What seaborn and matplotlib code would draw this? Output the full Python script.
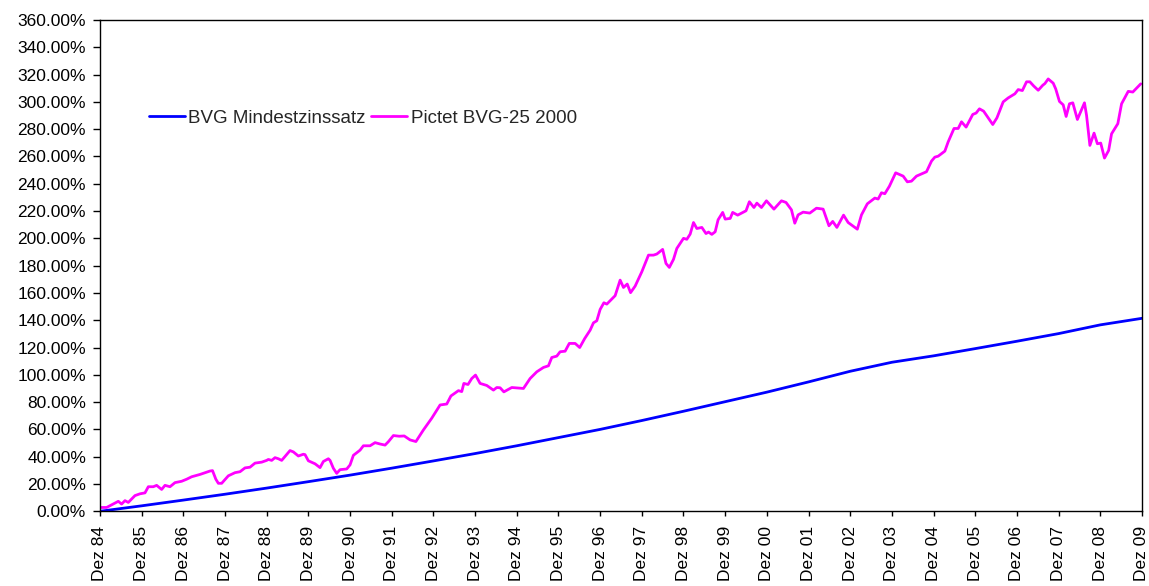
import numpy as np
import pandas as pd
import matplotlib
matplotlib.use("Agg")
import matplotlib.pyplot as plt
import seaborn as sns
from matplotlib.ticker import FuncFormatter

# Tick labels (one per year, December)
year_labels = ["Dez %02d" % (y % 100) for y in range(1984, 2010)]

# BVG minimum interest, cumulative % (yearly points, years after Dez 84)
bvg_t = list(range(0, 26))
bvg_v = [0, 4.0, 8.2, 12.5, 17.0, 21.7, 26.5, 31.6, 36.9, 42.3, 48.0, 54.0, 60.0,
         66.5, 73.3, 80.3, 87.3, 94.8, 102.6, 109.2, 113.9, 119.2, 124.6, 130.2,
         136.6, 141.4]

# Pictet BVG-25 2000, cumulative % (years after Dez 84)
pictet_t = [0.0, 0.16, 0.36, 0.44, 0.52, 0.6, 0.68, 0.84, 0.96, 1.08, 1.16, 1.28, 1.36,
            1.48, 1.56, 1.68, 1.8, 1.96, 2.08, 2.2, 2.4, 2.64, 2.7, 2.78, 2.84, 2.92,
            3.08, 3.24, 3.36, 3.48, 3.6, 3.72, 3.88, 4.0, 4.04, 4.12, 4.2, 4.28, 4.36,
            4.56, 4.64, 4.76, 4.88, 4.92, 5.0, 5.16, 5.28, 5.36, 5.48, 5.52, 5.6, 5.68,
            5.76, 5.92, 6.0, 6.08, 6.24, 6.32, 6.48, 6.6, 6.72, 6.84, 6.92, 7.04, 7.18,
            7.3, 7.44, 7.58, 7.76, 7.96, 8.16, 8.32, 8.42, 8.6, 8.68, 8.73, 8.83, 8.92,
            9.01, 9.12, 9.28, 9.44, 9.52, 9.6, 9.69, 9.88, 10.16, 10.32, 10.48, 10.64,
            10.76, 10.84, 10.96, 11.04, 11.16, 11.26, 11.4, 11.51, 11.63, 11.76, 11.84,
            11.92, 12.0, 12.09, 12.16, 12.24, 12.36, 12.48, 12.56, 12.65, 12.73, 12.84,
            13.0, 13.16, 13.28, 13.36, 13.5, 13.58, 13.66, 13.76, 13.84, 14.0, 14.08,
            14.16, 14.24, 14.32, 14.44, 14.54, 14.6, 14.68, 14.76, 14.83, 14.94, 15.0,
            15.12, 15.18, 15.3, 15.5, 15.58, 15.69, 15.76, 15.87, 15.99, 16.17, 16.35,
            16.46, 16.59, 16.67, 16.75, 16.87, 17.03, 17.19, 17.35, 17.49, 17.58, 17.68,
            17.84, 17.95, 18.08, 18.17, 18.27, 18.41, 18.59, 18.67, 18.75, 18.83, 18.94,
            19.09, 19.27, 19.37, 19.47, 19.59, 19.83, 19.95, 20.03, 20.11, 20.27, 20.35,
            20.49, 20.59, 20.67, 20.78, 20.94, 21.02, 21.1, 21.2, 21.42, 21.52, 21.67,
            21.79, 21.95, 22.03, 22.13, 22.23, 22.31, 22.4, 22.51, 22.62, 22.67, 22.75,
            22.87, 22.93, 23.02, 23.11, 23.18, 23.26, 23.34, 23.45, 23.62, 23.67, 23.75,
            23.85, 23.93, 24.01, 24.1, 24.2, 24.27, 24.42, 24.51, 24.67, 24.78, 24.97]
pictet_v = [2.8, 2.8, 6.0, 7.3, 5.3, 7.8, 6.5, 11.5, 12.8, 13.5, 18.0, 18.0, 19.0,
            16.0, 19.0, 18.0, 21.0, 22.0, 23.5, 25.3, 27.0, 29.5, 29.8, 23.5, 20.5, 20.5,
            26.0, 28.3, 29.0, 31.8, 32.3, 35.3, 36.0, 37.3, 38.0, 37.3, 39.3, 38.5, 37.3,
            44.5, 43.5, 40.5, 41.8, 41.5, 37.0, 34.8, 32.0, 36.5, 38.5, 37.3, 31.5, 27.8,
            30.5, 31.0, 34.0, 41.0, 44.8, 48.0, 48.0, 50.3, 49.3, 48.5, 51.0, 55.5, 55.0,
            55.2, 52.3, 51.1, 59.6, 68.2, 77.9, 78.6, 84.5, 88.4, 87.7, 93.7, 92.9, 97.3,
            99.8, 93.7, 92.2, 88.8, 90.7, 90.5, 87.5, 90.7, 90.0, 97.3, 102.2, 105.4,
            106.6, 112.7, 113.7, 116.9, 117.3, 123.0, 123.0, 120.0, 126.6, 132.7, 138.1,
            139.6, 147.9, 152.8, 151.8, 154.3, 158.0, 169.4, 164.0, 166.5, 160.2, 165.0,
            175.5, 187.7, 187.7, 188.5, 191.9, 181.6, 178.7, 184.6, 192.6, 200.0, 199.3,
            203.1, 211.6, 207.2, 208.0, 203.5, 204.6, 202.9, 204.8, 213.6, 219.0, 214.1,
            214.6, 219.0, 217.0, 220.2, 226.8, 222.6, 225.8, 222.6, 227.5, 221.4, 227.5,
            226.3, 220.9, 211.1, 217.2, 219.2, 218.5, 222.1, 221.4, 209.2, 212.4, 208.0,
            217.0, 211.6, 208.7, 206.7, 217.2, 225.3, 229.5, 228.8, 233.4, 232.7, 238.2,
            248.0, 245.6, 241.4, 241.9, 245.6, 248.8, 256.6, 259.5, 260.2, 263.9, 270.7,
            280.5, 280.5, 285.4, 281.5, 290.8, 291.8, 294.9, 293.2, 283.4, 288.3, 300.0,
            302.9, 305.9, 309.0, 308.3, 314.7, 314.7, 311.7, 308.5, 312.2, 313.4, 316.8,
            313.7, 309.5, 300.3, 297.8, 289.3, 298.6, 299.3, 287.1, 299.3, 290.1, 268.1,
            277.1, 269.3, 269.8, 258.8, 264.4, 276.6, 284.0, 298.6, 307.7, 307.2, 313.2]

sns.set_style("ticks")
plt.rcParams['font.family'] = ['Liberation Sans', 'DejaVu Sans']

fig = plt.figure(figsize=(11.49, 5.86), dpi=100)
ax = fig.add_axes([0.087, 0.1275, 0.9069, 0.8384])

bvg = pd.DataFrame({'t': bvg_t, 'v': bvg_v})
pictet = pd.DataFrame({'t': pictet_t, 'v': pictet_v})
sns.lineplot(data=bvg, x='t', y='v', ax=ax, color='#0000FF', lw=2,
             label='BVG Mindestzinssatz')
sns.lineplot(data=pictet, x='t', y='v', ax=ax, color='#FF00FF', lw=2,
             label='Pictet BVG-25 2000')

ax.set_xlim(0, 25)
ax.set_ylim(0, 360)
ax.set_yticks(np.arange(0, 361, 20))
ax.yaxis.set_major_formatter(FuncFormatter(lambda v, p: f"{v:.2f}%"))
ax.set_xticks(range(0, 26))
ax.set_xticklabels(year_labels, rotation=90)
ax.tick_params(axis='both', labelsize=12.5, width=1, color='black',
               labelcolor='black')
ax.tick_params(axis='y', length=5, pad=5)
ax.tick_params(axis='x', length=3.5, pad=7)
ax.set_xlabel('')
ax.set_ylabel('')
for s in ax.spines.values():
    s.set_color('black')
    s.set_linewidth(1)

ax.legend(loc='center left', bbox_to_anchor=(0.047, 0.80), ncol=2, frameon=False,
          fontsize=13.5, handlelength=1.9, handletextpad=0.2, columnspacing=0.3,
          borderpad=0, borderaxespad=0)

fig.savefig('out.png', dpi=100)
